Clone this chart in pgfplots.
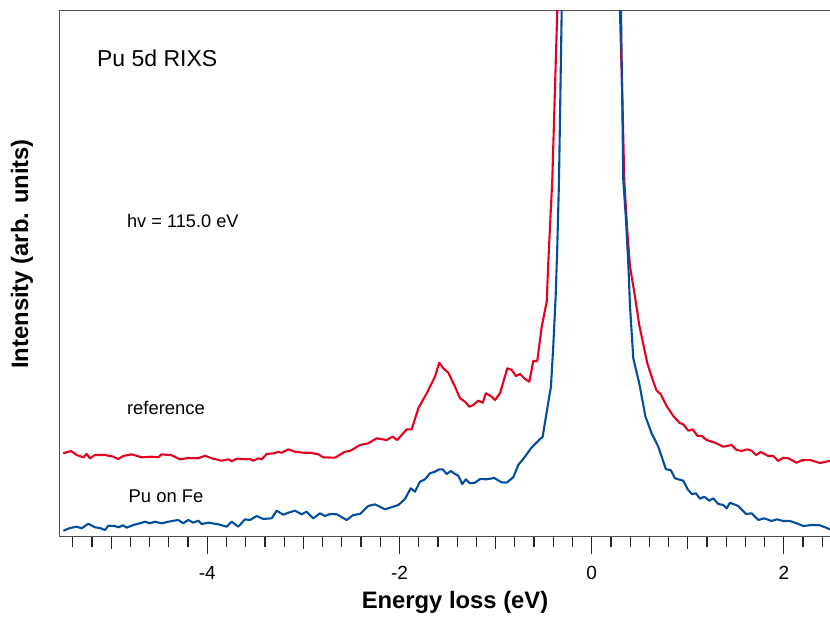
\documentclass[border=0pt]{standalone}
\usepackage{fontspec}
\setmainfont{Liberation Sans}
\usepackage{pgfplots}
\pgfplotsset{compat=1.18}
\definecolor{cred}{RGB}{228,0,30}
\definecolor{cblue}{RGB}{0,78,158}
\definecolor{axgray}{RGB}{80,80,80}
\begin{document}
\begin{tikzpicture}
\begin{axis}[
 at={(0,0)}, anchor=south west,
 scale only axis, width=385.35pt, height=263pt,
 xmin=-5.54, xmax=2.48, ymin=0, ymax=5.26,
 axis x line*=bottom, axis y line*=left,
 axis line style={axgray, line width=0.75pt},
 ytick=\empty,
 xtick={-4,-2,0,2}, xticklabels={-4,-2,0,2},
 minor xtick={-5.4,-5.2,...,2.41},
 extra x ticks={-5,-3,-1,1},
 extra x tick labels={},
 extra tick style={major tick length=6pt},
 tick align=outside,
 major tick length=8.5pt, minor tick length=5pt,
 tick style={black!85, line width=0.6pt},
 xticklabel style={font=\fontsize{9.5}{11}\selectfont, anchor=center, yshift=-9.4pt},
 clip mode=individual,
]
\draw[axgray, line width=0.75pt] (rel axis cs:0,1) -- (rel axis cs:1,1);
\addplot[cred, line width=1.05pt, line join=round] coordinates {
(-5.498,0.834) (-5.418,0.857) (-5.359,0.817) (-5.290,0.794) (-5.255,0.827) (-5.221,0.784)
(-5.169,0.817) (-5.065,0.817) (-4.978,0.800) (-4.926,0.777) (-4.874,0.807) (-4.787,0.824)
(-4.683,0.794) (-4.579,0.800) (-4.510,0.794) (-4.475,0.824) (-4.370,0.814) (-4.284,0.774)
(-4.198,0.787) (-4.094,0.784) (-4.024,0.810) (-3.954,0.784) (-3.850,0.760) (-3.781,0.774)
(-3.746,0.754) (-3.694,0.780) (-3.590,0.774) (-3.556,0.777) (-3.521,0.760) (-3.469,0.784)
(-3.434,0.774) (-3.382,0.827) (-3.313,0.834) (-3.261,0.847) (-3.226,0.840) (-3.157,0.874)
(-3.087,0.850) (-3.001,0.840) (-2.931,0.840) (-2.845,0.824) (-2.793,0.794) (-2.671,0.790)
(-2.567,0.850) (-2.515,0.857) (-2.411,0.917) (-2.325,0.934) (-2.237,0.984) (-2.133,0.967)
(-2.071,1.000) (-2.023,0.967) (-1.925,1.074) (-1.873,1.074) (-1.804,1.284) (-1.717,1.434)
(-1.631,1.600) (-1.586,1.740) (-1.544,1.684) (-1.492,1.640) (-1.422,1.500) (-1.370,1.384)
(-1.318,1.350) (-1.274,1.300) (-1.232,1.317) (-1.180,1.360) (-1.134,1.340) (-1.100,1.434)
(-1.051,1.407) (-1.006,1.367) (-0.954,1.434) (-0.878,1.684) (-0.832,1.667) (-0.788,1.607)
(-0.746,1.627) (-0.694,1.577) (-0.649,1.550) (-0.608,1.757) (-0.566,1.757) (-0.520,2.100)
(-0.468,2.350) (-0.452,2.734) (-0.427,3.234) (-0.410,3.567) (-0.358,5.260) (-0.340,5.767)
(-0.028,35.0)
(0.285,5.567) (0.294,5.260) (0.320,4.367) (0.339,3.567) (0.370,3.067) (0.399,2.700)
(0.451,2.400) (0.495,2.117) (0.579,1.734) (0.635,1.567) (0.676,1.460) (0.718,1.427)
(0.780,1.307) (0.849,1.207) (0.912,1.140) (0.953,1.124) (1.005,1.060) (1.051,1.074)
(1.099,1.010) (1.145,1.007) (1.197,0.967) (1.283,0.940) (1.369,0.900) (1.457,0.917)
(1.509,0.867) (1.561,0.857) (1.619,0.874) (1.665,0.860) (1.710,0.817) (1.759,0.847)
(1.838,0.807) (1.890,0.807) (1.942,0.757) (1.994,0.790) (2.046,0.784) (2.133,0.740)
(2.185,0.764) (2.272,0.767) (2.376,0.737) (2.472,0.757) (2.532,0.747)
};
\addplot[cblue, line width=1.05pt, line join=round] coordinates {
(-5.498,0.060) (-5.429,0.087) (-5.359,0.100) (-5.307,0.084) (-5.238,0.130) (-5.169,0.094)
(-5.117,0.087) (-5.065,0.067) (-5.030,0.110) (-4.960,0.107) (-4.926,0.094) (-4.874,0.114)
(-4.839,0.090) (-4.770,0.117) (-4.700,0.134) (-4.648,0.150) (-4.596,0.134) (-4.544,0.150)
(-4.475,0.134) (-4.406,0.150) (-4.302,0.167) (-4.250,0.134) (-4.198,0.167) (-4.146,0.140)
(-4.094,0.160) (-4.058,0.127) (-3.990,0.140) (-3.886,0.124) (-3.798,0.100) (-3.746,0.150)
(-3.677,0.100) (-3.608,0.174) (-3.556,0.167) (-3.486,0.207) (-3.417,0.177) (-3.330,0.184)
(-3.278,0.260) (-3.209,0.220) (-3.157,0.240) (-3.087,0.260) (-3.018,0.224) (-2.966,0.250)
(-2.897,0.184) (-2.827,0.234) (-2.775,0.207) (-2.723,0.227) (-2.653,0.224) (-2.549,0.167)
(-2.481,0.217) (-2.411,0.227) (-2.325,0.307) (-2.255,0.324) (-2.151,0.274) (-2.012,0.317)
(-1.943,0.377) (-1.883,0.484) (-1.839,0.450) (-1.787,0.550) (-1.735,0.574) (-1.683,0.634)
(-1.631,0.650) (-1.586,0.674) (-1.550,0.674) (-1.509,0.627) (-1.467,0.657) (-1.422,0.627)
(-1.388,0.610) (-1.347,0.527) (-1.308,0.574) (-1.266,0.534) (-1.214,0.540) (-1.162,0.577)
(-1.093,0.574) (-1.014,0.587) (-0.937,0.544) (-0.885,0.540) (-0.816,0.594) (-0.764,0.717)
(-0.694,0.800) (-0.624,0.894) (-0.572,0.944) (-0.510,1.000) (-0.468,1.247) (-0.424,1.500)
(-0.400,1.900) (-0.375,2.400) (-0.358,2.900) (-0.340,3.567) (-0.312,5.260) (-0.304,5.767)
(-0.007,35.0)
(0.301,5.567) (0.305,5.260) (0.318,4.367) (0.329,3.567) (0.357,3.167) (0.381,2.734)
(0.399,2.300) (0.433,1.784) (0.495,1.534) (0.560,1.200) (0.624,1.034) (0.693,0.900)
(0.773,0.674) (0.822,0.667) (0.867,0.584) (0.953,0.560) (0.999,0.474) (1.041,0.427)
(1.085,0.434) (1.127,0.380) (1.172,0.400) (1.224,0.360) (1.265,0.384) (1.317,0.327)
(1.369,0.317) (1.405,0.284) (1.439,0.340) (1.525,0.307) (1.606,0.227) (1.665,0.234)
(1.734,0.167) (1.793,0.184) (1.873,0.157) (1.925,0.174) (1.994,0.157) (2.063,0.157)
(2.133,0.134) (2.202,0.107) (2.289,0.117) (2.376,0.114) (2.472,0.077) (2.532,0.060)
};
\node[anchor=west, inner sep=0, font=\fontsize{11.5}{13}\selectfont] at (axis cs:-5.151,4.787) {Pu 5d RIXS};
\node[anchor=west, inner sep=0, font=\fontsize{9.1}{11}\selectfont] at (axis cs:-4.839,3.16) {hv = 115.0 eV};
\node[anchor=west, inner sep=0, font=\fontsize{9.2}{11}\selectfont] at (axis cs:-4.839,1.284) {reference};
\node[anchor=west, inner sep=0, font=\fontsize{9.2}{11}\selectfont] at (axis cs:-4.822,0.407) {Pu on Fe};
\end{axis}
\node[font=\bfseries\fontsize{11.9}{14}\selectfont] at (197.85pt,-32.65pt) {Energy loss (eV)};
\node[rotate=90, font=\bfseries\fontsize{11.9}{14}\selectfont] at (-18.65pt,141.35pt) {Intensity (arb. units)};
\pgfresetboundingbox
\path[use as bounding box] (-29.65pt,-39.65pt) rectangle (385.35pt,268.35pt);
\end{tikzpicture}
\end{document}
